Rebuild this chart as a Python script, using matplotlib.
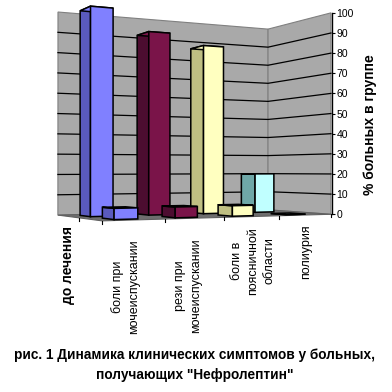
import numpy as np
import matplotlib
matplotlib.use("Agg")
import matplotlib.pyplot as plt

plt.rcParams['font.family'] = ['Liberation Sans', 'DejaVu Sans']

# данные
categories = ["боли при\nмочеиспускании", "рези при\nмочеиспускании",
              "боли в\nпоясничной\nобласти", "полиурия"]
series_label = "до лечения"
before = [100, 90, 85, 20]
after = [5, 5, 5, 0]
y_ticks = [0, 10, 20, 30, 40, 50, 60, 70, 80, 90, 100]

front_colors = ["#8080FF", "#7A1449", "#FFFFC0", "#C0FFFF"]
side_colors = ["#5A5ABE", "#4C0D30", "#BFBF82", "#6FA8A8"]

# камера: (категория, глубина, значение) -> пиксели
n = len(categories)
anchors = [((0, 0, 0), (102, 221)), ((n, 0, 0), (331, 214)),
           ((0, 1, 0), (58, 215)), ((n, 1, 0), (268, 210)),
           ((0, 1, 100), (58, 12)), ((n, 1, 100), (268, 29)),
           ((n, 0, 100), (331, 13))]
rows = []
for (c, d, h), (u, v) in anchors:
    rows.append([c, d, h, 1, 0, 0, 0, 0, -u*c, -u*d, -u*h, -u])
    rows.append([0, 0, 0, 0, c, d, h, 1, -v*c, -v*d, -v*h, -v])
P = np.linalg.svd(np.array(rows, dtype=float))[2][-1].reshape(3, 4)


def proj(c, d, h):
    p = P @ np.array([c, d, h, 1.0])
    return p[0]/p[2], p[1]/p[2]


fig = plt.figure(figsize=(3.92, 3.92), dpi=100)
ax = fig.add_axes([0, 0, 1, 1])
ax.set_xlim(0, 392)
ax.set_ylim(392, 0)
ax.axis('off')


def face(pts, color, z, lw=1.1, ec='black'):
    xy = [proj(*p) for p in pts]
    ax.fill(*zip(*xy), facecolor=color, edgecolor=ec, linewidth=lw, zorder=z)


# стенки и пол
wall = "#A9A9A9"
face([(0, 1, 0), (n, 1, 0), (n, 1, 100), (0, 1, 100)], wall, 1, 0.8, "#808080")
face([(n, 1, 0), (n, 0, 0), (n, 0, 100), (n, 1, 100)], wall, 1, 0.8, "#808080")
face([(0, 0, 0), (n, 0, 0), (n, 1, 0), (0, 1, 0)], "#6E6E6E", 1, 0.8, "#606060")

for t in y_ticks[1:-1]:
    xs, ys = zip(proj(0, 1, t), proj(n, 1, t), proj(n, 0, t))
    ax.plot(xs, ys, color='black', lw=0.9, zorder=2)

# риски на полу
for i in range(n+1):
    x, y = proj(i, 0, 0)
    ax.plot([x, x], [y, y+3], color='black', lw=0.8, zorder=2)
x, y = proj(0, 0.5, 0)
ax.plot([x, x], [y, y+3], color='black', lw=0.8, zorder=2)


def bar(i, d0, d1, value, z):
    c0, c1 = i+0.28, i+0.66
    face([(c0, d0, 0), (c0, d1, 0), (c0, d1, value), (c0, d0, value)], side_colors[i], z)
    face([(c0, d0, value), (c0, d1, value), (c1, d1, value), (c1, d0, value)], front_colors[i], z)
    face([(c0, d0, 0), (c1, d0, 0), (c1, d0, value), (c0, d0, value)], front_colors[i], z)


for i, v in enumerate(before):
    bar(i, 0.62, 0.86, v, 3+i*0.01)
for i, v in enumerate(after):
    bar(i, 0.12, 0.36, v, 4+i*0.01)

# ось значений
x0, y0 = proj(n, 0, 0)
x1, y1 = proj(n, 0, 100)
ay = fig.add_axes([x0/392, 1-y0/392, 0.002, (y0-y1)/392])
ay.patch.set_alpha(0)
ay.set_ylim(0, 100)
ay.set_xticks([])
ay.set_yticks(y_ticks)
ay.yaxis.tick_right()
ay.tick_params(axis='y', length=2.5, width=0.8, pad=1, labelsize=7.5)
for s in ['left', 'top', 'bottom']:
    ay.spines[s].set_visible(False)
ay.spines['right'].set_linewidth(1.0)

fig.text(370/392, 1-125/392, "% больных в группе", rotation=90, fontsize=10,
         fontweight='bold', ha='center', va='center')

# подписи
label_x = [126, 188, 253, 306]
label_y = [287, 286, 261, 252]
for name, lx, ly in zip(categories, label_x, label_y):
    ax.text(lx, ly, name, rotation=90, fontsize=9, ha='center', va='center',
            ma='center', linespacing=1.45)
ax.text(68, 265, series_label, rotation=90, fontsize=10, fontweight='bold',
        ha='center', va='center')

ax.text(195, 355, "рис. 1 Динамика клинических симптомов у больных,", fontsize=9.8,
        fontweight='bold', ha='center', va='center')
ax.text(195, 375, "получающих \"Нефролептин\"", fontsize=9.8,
        fontweight='bold', ha='center', va='center')

fig.savefig("out.png", dpi=100)
